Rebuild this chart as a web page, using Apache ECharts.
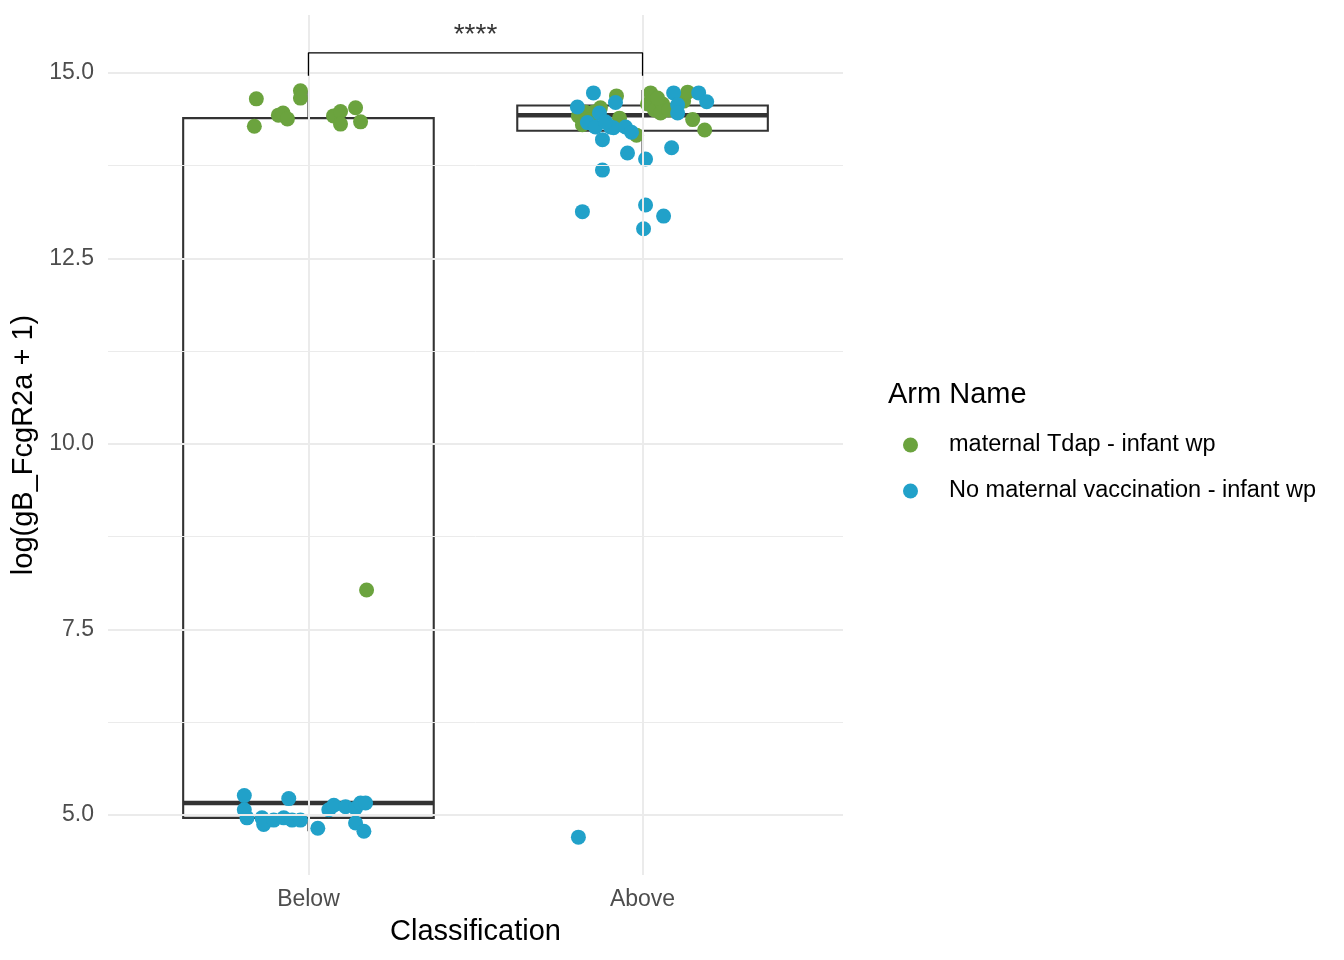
<!DOCTYPE html>
<html>
<head>
<meta charset="utf-8">
<script src="https://cdn.jsdelivr.net/npm/echarts@6/dist/echarts.min.js"></script>
<style>
html,body{margin:0;padding:0;background:#fff;}
#chart{width:1344px;height:960px;}
</style>
</head>
<body>
<div id="chart"></div>
<script>
// ---- data ----
const categories = ['Below', 'Above'];
const yTicks = [5, 7.5, 10, 12.5, 15];
const yMinorTicks = [6.25, 8.75, 11.25, 13.75];
const seriesNames = ['maternal Tdap - infant wp', 'No maternal vaccination - infant wp'];

// box stats: [min, Q1, median, Q3, max]
const boxBelow = [4.78, 4.96, 5.16, 14.39, 14.76];
const boxAbove = [13.84, 14.22, 14.43, 14.56, 14.77];

// maternal Tdap, Below
const tdapBelowVal = [14.65, 14.28, 14.43, 14.46, 14.38, 14.76, 14.66, 14.42, 14.48, 14.31, 14.53, 14.34, 8.03];
const tdapBelowJit = [-0.156, -0.162, -0.090, -0.076, -0.063, -0.024, -0.024, 0.075, 0.096, 0.096, 0.141, 0.156, 0.174];
// maternal Tdap, Above
const tdapAboveVal = [14.42, 14.30, 14.47, 14.47, 14.53, 14.69, 14.39, 14.16, 14.58, 14.73, 14.50, 14.46, 14.58, 14.50, 14.62, 14.74, 14.37, 14.23, 14.37, 14.66];
const tdapAboveJit = [-0.192, -0.180, -0.171, -0.147, -0.126, -0.078, -0.069, -0.018, 0.015, 0.024, 0.036, 0.054, 0.060, 0.078, 0.123, 0.135, 0.150, 0.186, -0.156, 0.045];
// No maternal vaccination, Below
const noVacBelowVal = [5.26, 5.07, 4.96, 4.96, 4.87, 4.93, 4.96, 5.22, 4.93, 4.93, 4.82, 5.07, 5.13, 5.11, 5.09, 4.89, 4.78, 5.16, 5.16];
const noVacBelowJit = [-0.192, -0.192, -0.184, -0.139, -0.134, -0.104, -0.074, -0.059, -0.049, -0.024, 0.028, 0.061, 0.076, 0.111, 0.141, 0.141, 0.166, 0.156, 0.171];
// No maternal vaccination, Above
const noVacAboveVal = [14.73, 14.60, 14.54, 14.46, 14.33, 14.27, 14.27, 14.26, 14.27, 14.20, 14.10, 13.92, 13.84, 13.99, 13.69, 13.13, 13.22, 13.07, 12.90, 14.73, 14.57, 14.46, 14.73, 14.61, 4.70, 14.34];
const noVacAboveJit = [-0.147, -0.081, -0.195, -0.129, -0.165, -0.141, -0.096, -0.087, -0.051, -0.033, -0.120, -0.045, 0.009, 0.087, -0.120, -0.180, 0.009, 0.063, 0.003, 0.093, 0.105, 0.105, 0.168, 0.192, -0.192, -0.111];

// significance bracket
const bracketY = 15.27;
const bracketTip = 14.96;
const sigLabel = '****';

// ---- build ----
const FONT = "'Liberation Sans', Arial, Helvetica, sans-serif";
const GREEN = '#6BA33E';
const BLUE = '#21A1C9';

function pts(catIdx, vals, jit) {
  return vals.map((v, i) => [catIdx + jit[i], v]);
}

const boxData = [[0].concat(boxBelow), [1].concat(boxAbove)];

const gridLines = []
  .concat(yTicks.map(v => ({ yAxis: v, lineStyle: { width: 2 } })))
  .concat(yMinorTicks.map(v => ({ yAxis: v, lineStyle: { width: 1 } })))
  .concat(categories.map((c, i) => ({ xAxis: i, lineStyle: { width: 2 } })));

const chart = echarts.init(document.getElementById('chart'), null, { renderer: 'canvas' });
chart.setOption({
  animation: false,
  backgroundColor: '#fff',
  textStyle: { fontFamily: FONT },
  grid: { left: 108, right: 501, top: 15, bottom: 85, containLabel: false },
  title: {
    text: 'Arm Name', left: 883, top: 375, padding: [5, 5, 5, 5],
    textStyle: { fontFamily: FONT, fontSize: 29, fontWeight: 'normal', color: '#000' }
  },
  legend: {
    orient: 'vertical', left: 903, top: 433, padding: 0,
    itemWidth: 15, itemHeight: 15, itemGap: 22, icon: 'circle',
    textStyle: { fontFamily: FONT, fontSize: 23.5, color: '#000', padding: [0, 0, 0, 26] },
    data: seriesNames
  },
  xAxis: {
    type: 'value', min: -0.6, max: 1.6,
    axisLine: { show: false }, axisTick: { show: false, customValues: [0, 1] },
    splitLine: { show: false },
    axisLabel: {
      customValues: [0, 1], margin: 13, fontSize: 23, color: '#4d4d4d', fontFamily: FONT,
      formatter: v => categories[Math.round(v)]
    },
    name: 'Classification', nameLocation: 'middle', nameGap: 42,
    nameTextStyle: { fontSize: 29, color: '#000', fontFamily: FONT }
  },
  yAxis: {
    type: 'value', min: 4.19, max: 15.78,
    axisLine: { show: false }, axisTick: { show: false, customValues: yTicks },
    splitLine: { show: false },
    axisLabel: {
      customValues: yTicks, margin: 14, fontSize: 23, color: '#4d4d4d', fontFamily: FONT,
      formatter: v => v.toFixed(1)
    },
    name: 'log(gB_FcgR2a + 1)', nameLocation: 'middle', nameGap: 61,
    nameTextStyle: { fontSize: 29, color: '#000', fontFamily: FONT }
  },
  series: [
    {
      type: 'scatter', name: '_grid', data: [[0, 10]], symbolSize: 0, silent: true, z: 0,
      markLine: {
        silent: true, symbol: ['none', 'none'], label: { show: false },
        lineStyle: { color: '#ebebeb', type: 'solid' },
        emphasis: { disabled: true },
        data: gridLines
      }
    },
    {
      type: 'custom', name: '_box', z: 2, silent: true,
      data: boxData,
      encode: { x: 0, y: [1, 2, 3, 4, 5] },
      renderItem: function (params, api) {
        const x = api.value(0);
        const lo = api.coord([x, api.value(1)]);
        const q1 = api.coord([x, api.value(2)]);
        const md = api.coord([x, api.value(3)]);
        const q3 = api.coord([x, api.value(4)]);
        const hi = api.coord([x, api.value(5)]);
        const l = api.coord([x - 0.375, api.value(2)])[0];
        const r = api.coord([x + 0.375, api.value(2)])[0];
        const st = { stroke: '#333333', lineWidth: 2.1, fill: null };
        return {
          type: 'group',
          children: [
            { type: 'line', shape: { x1: lo[0], y1: lo[1], x2: q1[0], y2: q1[1] }, style: st },
            { type: 'line', shape: { x1: q3[0], y1: q3[1], x2: hi[0], y2: hi[1] }, style: st },
            { type: 'rect', shape: { x: l, y: q3[1], width: r - l, height: q1[1] - q3[1] }, style: { stroke: '#333333', lineWidth: 2.1, fill: 'rgba(0,0,0,0)' } },
            { type: 'line', shape: { x1: l, y1: md[1], x2: r, y2: md[1] }, style: { stroke: '#333333', lineWidth: 4.5 } }
          ]
        };
      }
    },
    {
      type: 'scatter', name: seriesNames[0], z: 3,
      symbolSize: 15, itemStyle: { color: GREEN, opacity: 1 },
      data: pts(0, tdapBelowVal, tdapBelowJit).concat(pts(1, tdapAboveVal, tdapAboveJit))
    },
    {
      type: 'scatter', name: seriesNames[1], z: 4,
      symbolSize: 15, itemStyle: { color: BLUE, opacity: 1 },
      data: pts(0, noVacBelowVal, noVacBelowJit).concat(pts(1, noVacAboveVal, noVacAboveJit))
    },
    {
      type: 'line', name: '_bracket', z: 5, silent: true, symbol: 'none',
      lineStyle: { color: '#000', width: 1.3 },
      data: [[0, bracketTip], [0, bracketY], [1, bracketY], [1, bracketTip]]
    },
    {
      type: 'scatter', name: '_sig', z: 5, silent: true, symbolSize: 0,
      data: [[0.5, bracketY]],
      label: {
        show: true, position: 'top', distance: 4, formatter: sigLabel,
        fontSize: 28, color: '#000', fontFamily: FONT
      }
    }
  ]
});
</script>
</body>
</html>
